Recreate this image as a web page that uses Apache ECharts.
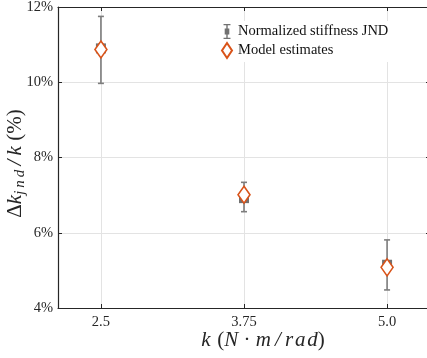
<!DOCTYPE html>
<html>
<head>
<meta charset="utf-8">
<script src="https://cdn.jsdelivr.net/npm/echarts@6/dist/echarts.min.js"></script>
<style>html,body{margin:0;padding:0;background:#fff;}#c{width:427px;height:358px;}</style>
</head>
<body>
<div id="c"></div>
<script>
// ---- data ----
const stiffness = [2.5, 3.75, 5.0];
const xTickLabels = ['2.5', '3.75', '5.0'];
const jndMean = [10.9, 6.92, 5.15];
const jndLow = [9.97, 6.56, 4.48];
const jndHigh = [11.75, 7.34, 5.81];
const modelEst = [10.87, 7.01, 5.08];

const serif = 'Liberation Serif, DejaVu Serif, serif';
const axisCol = '#262626';

const chart = echarts.init(document.getElementById('c'), null, {renderer: 'canvas'});

const errData = stiffness.map((x, i) => [x, jndLow[i], jndHigh[i]]);
const meanData = stiffness.map((x, i) => [x, jndMean[i]]);
const modelData = stiffness.map((x, i) => [x, modelEst[i]]);

const ebIcon = 'path://M0,0H6V1H0Z M2.4,1H3.6V4H2.4Z M1,4H5V9H1Z M2.4,9H3.6V12H2.4Z M0,12H6V13H0Z';
const dmIcon = 'path://M5,0L10,7.5L5,15L0,7.5Z';

const tickFmt = v => {
  const i = stiffness.findIndex(s => Math.abs(s - v) < 1e-6);
  return i >= 0 ? xTickLabels[i] : '';
};

chart.setOption({
  animation: false,
  backgroundColor: '#fff',
  grid: {left: 58, top: 7, right: -3, bottom: 50, containLabel: false, outerBoundsMode: 'none'},
  legend: {
    orient: 'vertical',
    left: 217, top: 21,
    itemWidth: 12, itemHeight: 15, itemGap: 3,
    backgroundColor: '#fff',
    padding: [3, 4, 3, 4],
    textStyle: {fontFamily: serif, fontSize: 14.5, color: '#111'},
    data: [
      {name: 'Normalized stiffness JND', icon: ebIcon},
      {name: 'Model estimates', icon: dmIcon}
    ]
  },
  xAxis: [{
    type: 'value', min: 2.125, max: 5.375,
    name: '{i|k}  {a|(}{i|N}{a| · }{i|m\u2009/\u2009r\u200aa\u200ad}{a|)}',
    nameLocation: 'middle', nameGap: 22, nameMoveOverlap: false,
    nameTextStyle: {
      padding: [0, 0, 0, 38],
      rich: {
        i: {fontFamily: serif, fontStyle: 'italic', fontSize: 21, color: axisCol},
        a: {fontFamily: serif, fontSize: 21, color: axisCol}
      }
    },
    axisLine: {show: true, lineStyle: {color: axisCol, width: 1.2}},
    axisTick: {show: true, inside: true, length: 4, customValues: stiffness, lineStyle: {color: axisCol}},
    axisLabel: {customValues: stiffness, formatter: tickFmt, fontFamily: serif, fontSize: 14.5, color: axisCol, margin: 7},
    splitLine: {show: true, lineStyle: {color: '#e3e3e3', width: 1}}
  }, {
    type: 'value', min: 2.125, max: 5.375, position: 'top',
    axisLine: {show: true, lineStyle: {color: axisCol, width: 1.2}},
    axisTick: {show: true, inside: true, length: 4, customValues: stiffness, lineStyle: {color: axisCol}},
    axisLabel: {show: false},
    splitLine: {show: false}
  }],
  yAxis: [{
    type: 'value', min: 4, max: 12, interval: 2,
    name: '{a|Δ}{i|k}{s|j\u2009n\u2009d}{i|\u2009/\u2009k}{a| (%)}',
    nameLocation: 'middle', nameGap: 30, nameRotate: 90, nameMoveOverlap: false,
    nameTextStyle: {
      padding: [0, 12, 0, 0],
      rich: {
        i: {fontFamily: serif, fontStyle: 'italic', fontSize: 21, color: axisCol},
        a: {fontFamily: serif, fontSize: 21, color: axisCol},
        s: {fontFamily: serif, fontStyle: 'italic', fontSize: 15, color: axisCol, padding: [10, 0, 0, 0]}
      }
    },
    axisLine: {show: true, lineStyle: {color: axisCol, width: 1.2}},
    axisTick: {show: true, inside: true, length: 4, lineStyle: {color: axisCol}},
    axisLabel: {formatter: v => v + '%', fontFamily: serif, fontSize: 14.5, color: axisCol, margin: 5},
    splitLine: {show: true, lineStyle: {color: '#e3e3e3', width: 1}}
  }, {
    type: 'value', min: 4, max: 12, interval: 2, position: 'right',
    axisLine: {show: true, lineStyle: {color: axisCol, width: 1.2}},
    axisTick: {show: true, inside: true, length: 4, lineStyle: {color: axisCol}},
    axisLabel: {show: false},
    splitLine: {show: false}
  }],
  series: [{
    type: 'custom',
    name: 'errbar',
    data: errData,
    z: 2,
    renderItem: (params, api) => {
      const x = api.value(0);
      const lo = api.coord([x, api.value(1)]);
      const hi = api.coord([x, api.value(2)]);
      const w = 3;
      const st = {stroke: '#7d7d7d', lineWidth: 1.6};
      return {
        type: 'group',
        children: [
          {type: 'line', shape: {x1: lo[0], y1: lo[1], x2: hi[0], y2: hi[1]}, style: st},
          {type: 'line', shape: {x1: lo[0] - w, y1: lo[1], x2: lo[0] + w, y2: lo[1]}, style: st},
          {type: 'line', shape: {x1: hi[0] - w, y1: hi[1], x2: hi[0] + w, y2: hi[1]}, style: st}
        ]
      };
    }
  }, {
    type: 'scatter',
    name: 'Normalized stiffness JND',
    data: meanData,
    symbol: 'rect', symbolSize: 10,
    itemStyle: {color: '#717171', opacity: 1},
    z: 3
  }, {
    type: 'scatter',
    name: 'Model estimates',
    data: modelData,
    symbol: 'diamond', symbolSize: [12, 17],
    itemStyle: {color: '#ffffff', borderColor: '#d95319', borderWidth: 1.6, opacity: 1},
    z: 4
  }]
});
</script>
</body>
</html>
